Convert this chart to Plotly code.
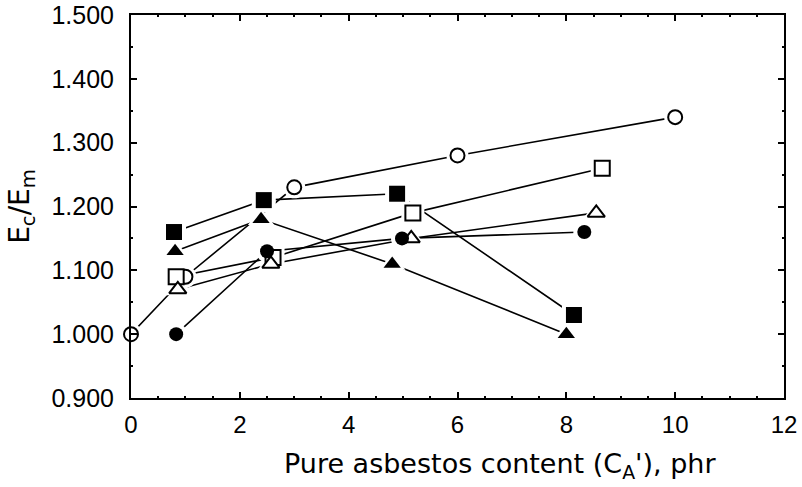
import plotly.graph_objects as go

# Data
open_circle_x = [0.0, 1.0, 3.0, 6.0, 10.0]
open_circle_y = [1.000, 1.090, 1.230, 1.280, 1.340]

open_square_x = [0.83, 2.61, 5.18, 8.66]
open_square_y = [1.090, 1.120, 1.190, 1.260]

filled_square_x = [0.79, 2.44, 4.89, 8.14]
filled_square_y = [1.160, 1.210, 1.220, 1.030]

filled_triangle_x = [0.81, 2.39, 4.80, 8.00]
filled_triangle_y = [1.130, 1.180, 1.110, 1.000]

open_triangle_x = [0.86, 2.57, 5.15, 8.55]
open_triangle_y = [1.070, 1.110, 1.150, 1.190]

filled_circle_x = [0.83, 2.50, 4.98, 8.33]
filled_circle_y = [1.000, 1.130, 1.150, 1.160]

x_title = "Pure asbestos content (C<sub>A</sub>'), phr"
y_title = "E<sub>c</sub>/E<sub>m</sub>"

series = [
    (open_circle_x, open_circle_y, "circle-open", 14),
    (open_square_x, open_square_y, "square-open", 15),
    (filled_square_x, filled_square_y, "square", 16),
    (filled_triangle_x, filled_triangle_y, "triangle-up", 15),
    (open_triangle_x, open_triangle_y, "triangle-up-open", 15),
    (filled_circle_x, filled_circle_y, "circle", 14),
]

fig = go.Figure()
# lines
for xs, ys, sym, sz in series:
    fig.add_trace(go.Scatter(x=xs, y=ys, mode="lines",
                             line=dict(color="black", width=1.6),
                             hoverinfo="skip", showlegend=False, cliponaxis=False))
# white halos to create gaps between lines and markers
for xs, ys, sym, sz in series:
    base = sym.replace("-open", "")
    fig.add_trace(go.Scatter(x=xs, y=ys, mode="markers",
                             marker=dict(symbol=base, size=sz + 8, color="white",
                                         line=dict(width=0)),
                             hoverinfo="skip", showlegend=False, cliponaxis=False))
# markers
for xs, ys, sym, sz in series:
    if sym.endswith("-open"):
        base = sym.replace("-open", "")
        mk = dict(symbol=base, size=sz, color="white",
                  line=dict(color="black", width=2))
    else:
        mk = dict(symbol=sym, size=sz, color="black",
                  line=dict(color="black", width=0))
    fig.add_trace(go.Scatter(x=xs, y=ys, mode="markers", marker=mk,
                             showlegend=False, cliponaxis=False))

tick_font = "Liberation Sans, Arial, sans-serif"
title_font = "DejaVu Sans, Verdana, sans-serif"

fig.update_layout(
    width=802, height=487,
    margin=dict(l=131, r=18, t=15, b=89),
    plot_bgcolor="white", paper_bgcolor="white",
    font=dict(family=tick_font, color="black", size=24),
    xaxis=dict(
        range=[0, 12], tickvals=[0, 2, 4, 6, 8, 10, 12],
        ticks="inside", ticklen=6, tickwidth=1.5, tickcolor="black",
        showline=True, linecolor="black", linewidth=2, mirror="ticks",
        showgrid=False, zeroline=False, automargin=False,
        minor=dict(ticks="inside", ticklen=2, tickcolor="black", nticks=5),
        tickfont=dict(size=24, color="black", family=tick_font),
        ticklabelstandoff=4,
    ),
    yaxis=dict(
        range=[0.9, 1.5], tickvals=[0.9, 1.0, 1.1, 1.2, 1.3, 1.4, 1.5],
        tickformat=".3f",
        ticks="inside", ticklen=6, tickwidth=1.5, tickcolor="black",
        showline=True, linecolor="black", linewidth=2, mirror="ticks",
        showgrid=False, zeroline=False, automargin=False,
        minor=dict(ticks="inside", ticklen=2, tickcolor="black", nticks=5),
        tickfont=dict(size=25, color="black", family=tick_font),
        ticklabelstandoff=10,
        title=dict(text=y_title,
                   font=dict(size=28, color="black", family=title_font), standoff=14),
    ),
    annotations=[dict(
        text=x_title, xref="paper", yref="paper",
        x=0.565, y=-0.175, xanchor="center", yanchor="middle",
        showarrow=False,
        font=dict(size=27, color="black", family=title_font),
    )],
)

fig.write_html("out.html", post_script="document.body.style.margin='0';",
               config={"displayModeBar": False})
